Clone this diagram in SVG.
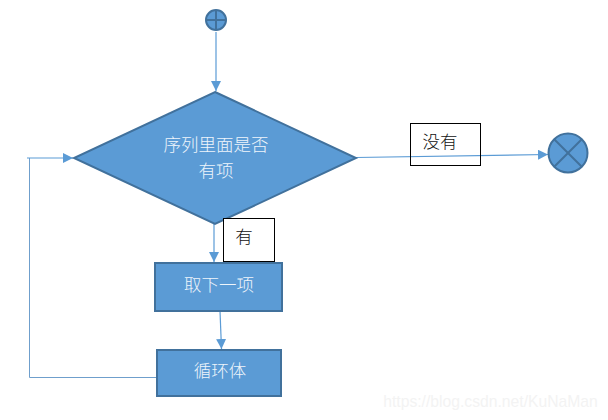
<svg xmlns="http://www.w3.org/2000/svg" width="608" height="420" viewBox="0 0 608 420">
<defs>
<marker id="arrow" markerUnits="userSpaceOnUse" markerWidth="11" markerHeight="10" refX="10" refY="5" orient="auto"><path d="M0 0L10 5L0 10Z" fill="#5b9bd5"/></marker>
</defs>
<style>
.shape{fill:#5b9bd5;stroke:#41719c;stroke-width:2}
.mark{fill:none;stroke:#41719c;stroke-width:2}
.line{fill:none;stroke:#5b9bd5;stroke-width:1.2}
.thin{fill:none;stroke:#6f9fcc;stroke-width:1}
.label{fill:#fff;stroke:#000;stroke-width:1}
text{font-family:"Noto Sans CJK SC","Liberation Sans",sans-serif;font-size:17.5px;font-weight:300;text-anchor:middle}
.w{fill:#eef5fb}
.k{fill:#111}
</style>
<rect width="608" height="420" fill="#fff"/>
<g id="connectors">
<path class="line" d="M216 32V91" marker-end="url(#arrow)"/>
<path class="line" d="M356 157.500L548 154.500" marker-end="url(#arrow)"/>
<path class="line" d="M214 224V262" marker-end="url(#arrow)"/>
<path class="line" d="M220 311L221.500 349" marker-end="url(#arrow)"/>
<path class="thin" d="M156 377.500H29.500V158"/>
<path class="line" d="M27 158H73" marker-end="url(#arrow)"/>
</g>
<g id="start"><circle class="shape" cx="216" cy="20" r="10"/><path class="mark" d="M206 20H226M216 10V30"/></g>
<g id="decision"><path class="shape" d="M215 92L356 158L215 224L74 158Z"/><text class="w" x="216" y="151">序列里面是否</text><text class="w" x="216" y="177">有项</text></g>
<g id="end"><circle class="shape" cx="568" cy="153" r="19.500"/><path class="mark" d="M554.200 139.200L581.800 166.800M581.800 139.200L554.200 166.800"/></g>
<g id="label-no"><rect class="label" x="410.500" y="123.500" width="70" height="42" fill-opacity="0"/><text class="k" x="440" y="148">没有</text></g>
<g id="label-yes"><rect class="label" x="223.500" y="218.500" width="51" height="43"/><text class="k" x="244" y="243">有</text></g>
<g id="take"><rect class="shape" x="155" y="263" width="127" height="48"/><text class="w" x="219" y="291">取下一项</text></g>
<g id="body"><rect class="shape" x="157" y="350" width="124" height="46"/><text class="w" x="220" y="377">循环体</text></g>
<text x="490.500" y="407" style="font-family:'Liberation Sans',sans-serif;font-size:15.700px;font-weight:400;fill:#f3f3f3">https://blog.csdn.net/KuNaMan</text>
</svg>
